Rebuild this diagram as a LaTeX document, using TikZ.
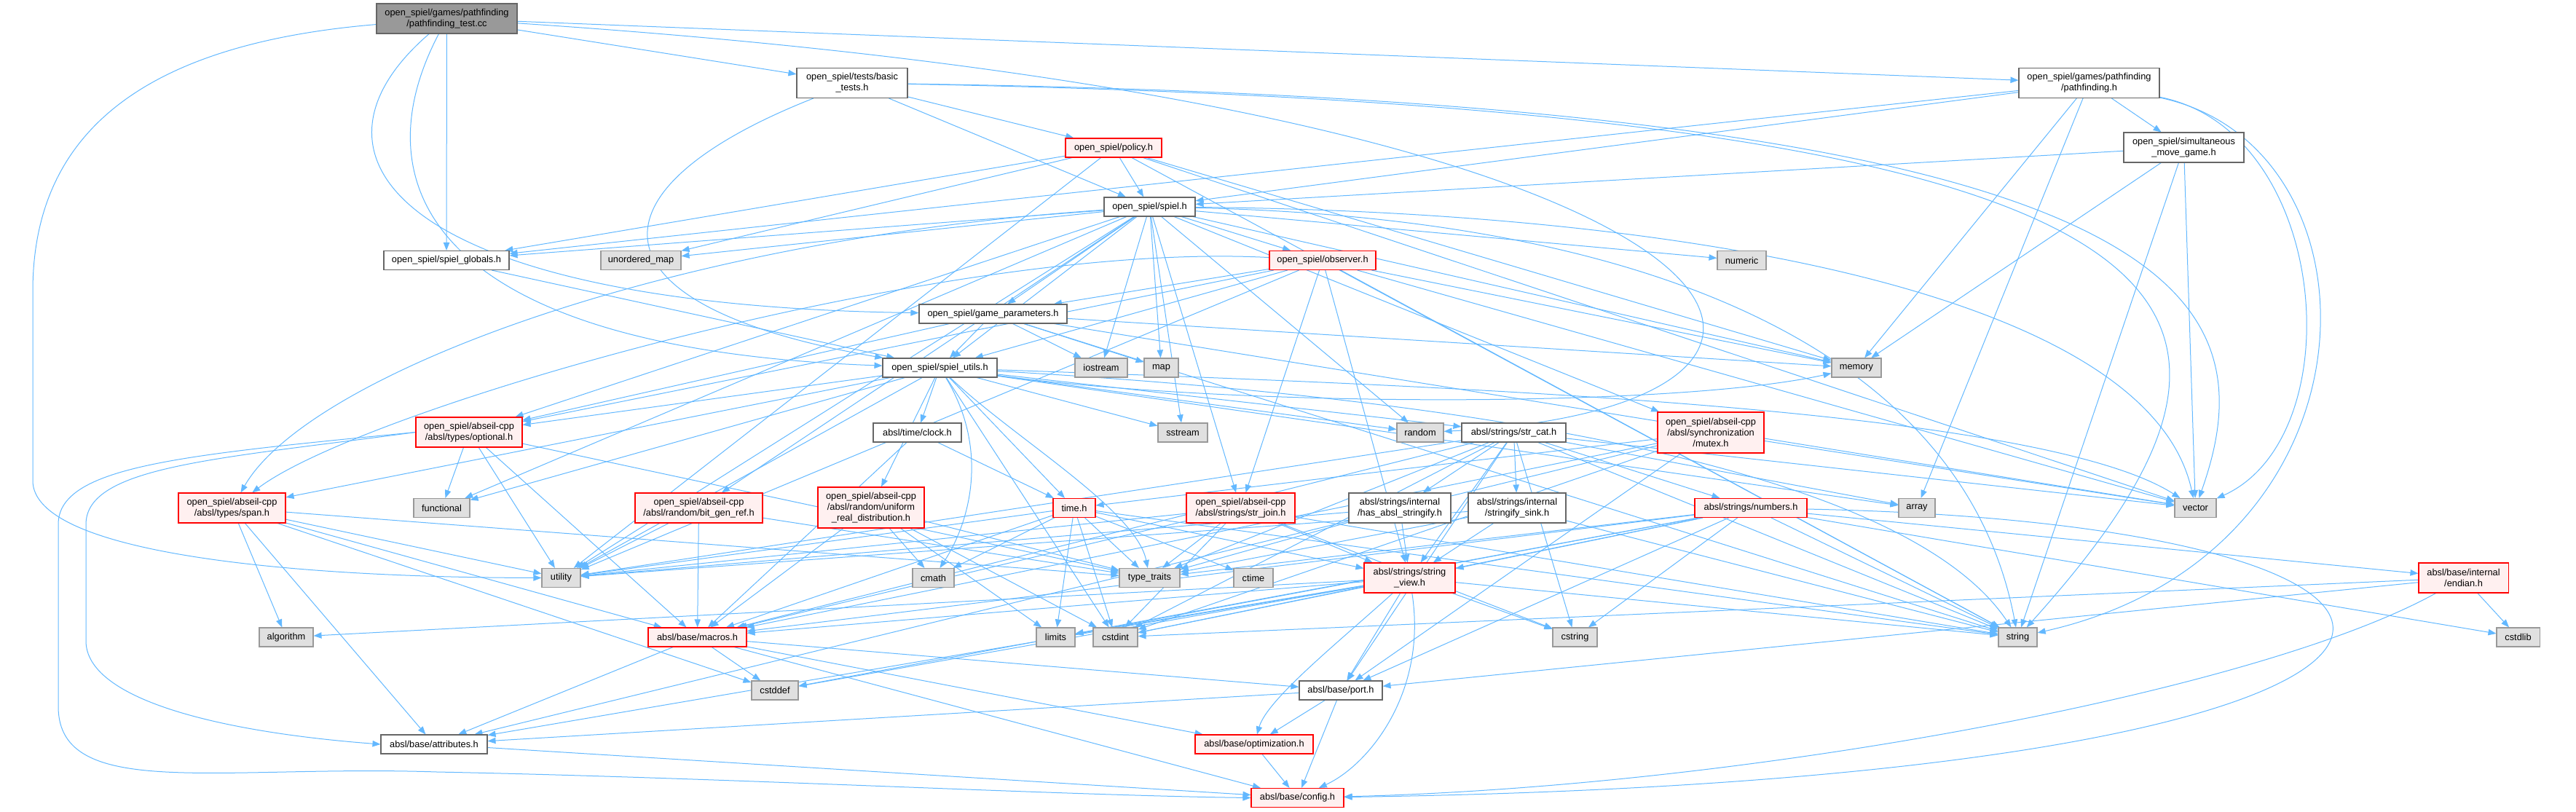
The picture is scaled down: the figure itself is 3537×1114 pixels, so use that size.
\documentclass[tikz,border=0pt]{standalone}
\usepackage{fontspec}
\setmainfont{Liberation Sans}
\usetikzlibrary{arrows.meta,backgrounds}

\definecolor{edgeblue}{HTML}{63B8FF}
\definecolor{sysfill}{HTML}{E0E0E0}
\definecolor{sysline}{HTML}{999999}
\definecolor{redfill}{HTML}{FFF0F0}
\definecolor{redline}{HTML}{FF0000}
\definecolor{boxline}{HTML}{666666}
\definecolor{rootfill}{HTML}{999999}

\begin{document}
\begin{tikzpicture}[
      x=0.5pt, y=-0.5pt,
      font=\fontsize{6.4}{7.5}\selectfont,
      gbox/.style={
          rectangle, draw, line width=0.55pt,
          align=center,
          inner sep=0pt,
          minimum height=13pt    % one text line
        },
      box/.style={gbox, draw=boxline, fill=white},
      rootbox/.style={gbox, draw=boxline, fill=rootfill},
      redbox/.style={gbox, draw=redline, fill=redfill},
      sysbox/.style={gbox, draw=sysline, fill=sysfill},
      wd/.style={minimum width=#1*0.5pt},
      two/.style={minimum height=20.5pt},
      three/.style={minimum height=28pt},
      dep/.style={color=edgeblue, draw, line width=0.5pt, -{Triangle[length=5.5pt,width=4.2pt]}},
    ]
    \useasboundingbox (0,0) rectangle (3537,1114);

    % top rows
    \node[rootbox, wd=193, two] (tc) at (613.5,25.5) {open\_spiel/games/pathfinding\\/pathfinding\_test.cc};
    \node[box, wd=152, two] (bt) at (1170,114) {open\_spiel/tests/basic\\\_tests.h};
    \node[box, wd=193, two] (pf) at (2868.5,114) {open\_spiel/games/pathfinding\\/pathfinding.h};
    \node[box, wd=165, two] (sim) at (2998.5,202.5) {open\_spiel/simultaneous\\\_move\_game.h};
    \node[redbox, wd=132] (pol) at (1529,203) {open\_spiel/policy.h};
    \node[box, wd=125] (sp) at (1578.5,284) {open\_spiel/spiel.h};
    \node[box, wd=172] (glob) at (613,357.5) {open\_spiel/spiel\_globals.h};
    \node[sysbox, wd=110] (umap) at (880,357.5) {unordered\_map};
    \node[sysbox, wd=67] (numeric) at (2391.5,357.5) {numeric};
    \node[redbox, wd=146] (obs) at (1816,357.5) {open\_spiel/observer.h};
    \node[box, wd=203] (gp) at (1363.5,431) {open\_spiel/game\_parameters.h};
    \node[box, wd=157] (su) at (1290.5,505) {open\_spiel/spiel\_utils.h};
    \node[sysbox, wd=72] (iostream) at (1512,505) {iostream};
    \node[sysbox, wd=47] (map) at (1594.5,505) {map};
    \node[sysbox, wd=68] (memory) at (2549,505) {memory};

    % middle rows
    \node[redbox, wd=146, two] (opt) at (644,593.5) {open\_spiel/abseil-cpp\\/absl/types/optional.h};
    \node[box, wd=121] (clock) at (1259.5,594) {absl/time/clock.h};
    \node[sysbox, wd=68] (sstream) at (1624,594) {sstream};
    \node[sysbox, wd=64] (random) at (1950,594) {random};
    \node[box, wd=143] (strcat) at (2078.5,594) {absl/strings/str\_cat.h};
    \node[redbox, wd=146, three] (mutex) at (2349,594) {open\_spiel/abseil-cpp\\/absl/synchronization\\/mutex.h};
    \node[redbox, wd=147, two] (span) at (318.5,697.5) {open\_spiel/abseil-cpp\\/absl/types/span.h};
    \node[sysbox, wd=77] (func) at (606.5,697.5) {functional};
    \node[redbox, wd=175, two] (bgr) at (959.5,697.5) {open\_spiel/abseil-cpp\\/absl/random/bit\_gen\_ref.h};
    \node[redbox, wd=146, three] (urd) at (1196,697) {open\_spiel/abseil-cpp\\/absl/random/uniform\\\_real\_distribution.h};
    \node[redbox, wd=58] (timeh) at (1475,697.5) {time.h};
    \node[redbox, wd=149, two] (strjoin) at (1703.5,697.5) {open\_spiel/abseil-cpp\\/absl/strings/str\_join.h};
    \node[box, wd=140, two] (has) at (1922,697.5) {absl/strings/internal\\/has\_absl\_stringify.h};
    \node[box, wd=134, two] (sink) at (2083,697.5) {absl/strings/internal\\/stringify\_sink.h};
    \node[redbox, wd=154] (numbers) at (2404,697.5) {absl/strings/numbers.h};
    \node[sysbox, wd=50] (array) at (2632,697.5) {array};
    \node[sysbox, wd=57] (vector) at (3014.5,697.5) {vector};

    % bottom rows
    \node[sysbox, wd=53] (utility) at (770.5,793.5) {utility};
    \node[sysbox, wd=57] (cmath) at (1281.5,793.5) {cmath};
    \node[sysbox, wd=83] (typetraits) at (1578.5,793.5) {type\_traits};
    \node[sysbox, wd=54] (ctime) at (1721,793.5) {ctime};
    \node[redbox, wd=125, two] (sview) at (1935.5,793.5) {absl/strings/string\\\_view.h};
    \node[redbox, wd=123, two] (endian) at (3382.5,793.5) {absl/base/internal\\/endian.h};
    \node[sysbox, wd=74] (algorithm) at (393,875) {algorithm};
    \node[redbox, wd=135] (macros) at (957.5,875) {absl/base/macros.h};
    \node[sysbox, wd=53] (limits) at (1449.5,875) {limits};
    \node[sysbox, wd=61] (cstdint) at (1531.5,875) {cstdint};
    \node[sysbox, wd=61] (cstring) at (2162.5,875) {cstring};
    \node[sysbox, wd=53] (stringh) at (2770.5,875) {string};
    \node[sysbox, wd=59] (cstdlib) at (3457.5,875) {cstdlib};
    \node[sysbox, wd=64] (cstddef) at (1064,948) {cstddef};
    \node[box, wd=114] (port) at (1841,948) {absl/base/port.h};
    \node[box, wd=146] (attributes) at (596,1022) {absl/base/attributes.h};
    \node[redbox, wd=162] (optim) at (1722,1022) {absl/base/optimization.h};
    \node[redbox, wd=127] (config) at (1781.5,1095.5) {absl/base/config.h};

    \begin{pgfonlayer}{background}
    % include edges
    \path[dep] (tc) edge (bt) edge (glob) edge (pf);
    \draw[dep] (tc) .. controls (200,60) and (45,180) .. (45,400) -- (45,660)
      .. controls (45,760) and (400,793) .. (utility);
    \draw[dep] (tc) .. controls (388,220) and (560,420) .. (gp);
    \draw[dep] (tc) .. controls (490,260) and (600,480) .. (su);
    \draw[dep] (tc) .. controls (2500,150) and (2623,560) .. (random);

    \path[dep] (bt) edge (sp) edge (pol);
    \draw[dep] (bt) .. controls (800,260) and (800,420) .. (su);
    \draw[dep] (bt) .. controls (3100,150) and (3180,420) .. (stringh);
    \draw[dep] (bt) .. controls (3000,140) and (3120,400) .. (vector);

    \path[dep] (pf) edge (sp) edge (sim) edge (glob) edge (array) edge (memory);
    \draw[dep] (pf) .. controls (3282,200) and (3282,760) .. (stringh);
    \draw[dep] (pf) .. controls (3200,180) and (3231,600) .. (vector);

    \path[dep] (sim) edge (sp) edge (memory) edge (vector) edge (stringh);

    \path[dep] (pol) edge (sp) edge (glob) edge (umap) edge (utility)
      edge (memory) edge (stringh) edge (vector);

    \path[dep] (sp) edge (glob) edge (umap) edge (numeric) edge (obs) edge (gp)
      edge (su) edge (iostream) edge (map) edge (memory) edge (random)
      edge (sstream) edge (utility) edge (func) edge (opt) edge (bgr)
      edge (strjoin) edge (mutex);
    \draw[dep] (sp) .. controls (900,330) and (420,520) .. (span);
    \draw[dep] (sp) .. controls (2300,300) and (2700,500) .. (stringh);
    \draw[dep] (sp) .. controls (2300,290) and (2950,400) .. (vector);

    \path[dep] (obs) edge (gp) edge (su) edge (strjoin) edge (memory) edge (sview)
      edge (opt) edge (utility) edge (stringh) edge (vector);
    \draw[dep] (obs) .. controls (1300,330) and (500,560) .. (span);

    \path[dep] (gp) edge (su) edge (iostream) edge (map) edge (memory) edge (opt)
      edge (stringh) edge (vector);

    \path[dep] (glob) edge (su);

    \path[dep] (su) edge (clock) edge (timeh) edge (urd) edge (sstream) edge (random)
      edge (strcat) edge (opt) edge (span) edge (func) edge (cstdint)
      edge (utility) edge (array);
    \draw[dep] (su) .. controls (1700,560) and (2300,560) .. (memory);
    \draw[dep] (su) .. controls (2000,530) and (2800,560) .. (vector);
    \draw[dep] (su) .. controls (1900,540) and (2600,620) .. (stringh);
    \draw[dep] (su) .. controls (1360,620) and (1330,720) .. (cmath);
    \draw[dep] (su) .. controls (1390,600) and (1560,700) .. (typetraits);

    \path[dep] (opt) edge (func) edge (utility) edge (typetraits) edge (macros);
    \draw[dep] (opt.west) .. controls (300,630) and (118,640) .. (118,720) -- (118,880)
      .. controls (118,960) and (300,1005) .. (attributes.west);
    \draw[dep] (opt.west) .. controls (250,625) and (80,640) .. (80,720) -- (80,970)
      .. controls (80,1100) and (300,1050) .. (600,1060)
      .. controls (1000,1068) and (1450,1092) .. (config.west);

    \path[dep] (span) edge (algorithm) edge (cstddef) edge (attributes) edge (utility)
      edge (macros) edge (typetraits);

    \path[dep] (bgr) edge (utility) edge (macros) edge (typetraits);
    \path[dep] (urd) edge (cmath) edge (limits) edge (cstdint) edge (typetraits) edge (macros);
    \path[dep] (clock) edge (timeh) edge (macros);
    \path[dep] (timeh) edge (cmath) edge (limits) edge (cstdint) edge (typetraits)
      edge (ctime) edge (sview) edge (utility) edge (macros) edge (stringh);
    \path[dep] (strjoin) edge (typetraits) edge (sview) edge (utility) edge (macros)
      edge (stringh) edge (cstring) edge (cstdint);
    \path[dep] (has) edge (typetraits) edge (utility) edge (sview);
    \path[dep] (sink) edge (sview) edge (stringh) edge (typetraits) edge (utility);
    \path[dep] (strcat) edge (has) edge (sink) edge (numbers) edge (sview) edge (port)
      edge (macros) edge (cstdint) edge (cstring) edge (typetraits) edge (utility)
      edge (array) edge (vector) edge (stringh);
    \path[dep] (mutex) edge (timeh) edge (attributes) edge (macros) edge (port)
      edge (cstdint) edge (vector);
    \path[dep] (numbers) edge (endian) edge (cstdlib) edge (stringh) edge (cstring)
      edge (cstdint) edge (limits) edge (typetraits) edge (sview) edge (port)
      edge (macros) edge (cstddef);
    \draw[dep] (numbers) .. controls (3530,720) and (3530,1070) .. (config);
    \path[dep] (sview) edge (algorithm) edge (cstddef) edge (cstring) edge (limits)
      edge (attributes) edge (macros) edge (stringh) edge (cstdint) edge (port);
    \draw[dep] (sview) .. controls (1840,880) and (1740,960) .. (optim);
    \draw[dep] (sview) .. controls (1960,950) and (1880,1050) .. (config);
    \path[dep] (endian) edge (cstdlib) edge (cstdint) edge (port);
    \draw[dep] (endian) .. controls (3100,950) and (2400,1080) .. (config);
    \path[dep] (macros) edge (cstddef) edge (attributes) edge (config) edge (optim) edge (port);
    \path[dep] (port) edge (attributes) edge (optim) edge (config);
    \path[dep] (optim) edge (config);
    \path[dep] (attributes) edge (config);
    \end{pgfonlayer}
  \end{tikzpicture}
\end{document}
